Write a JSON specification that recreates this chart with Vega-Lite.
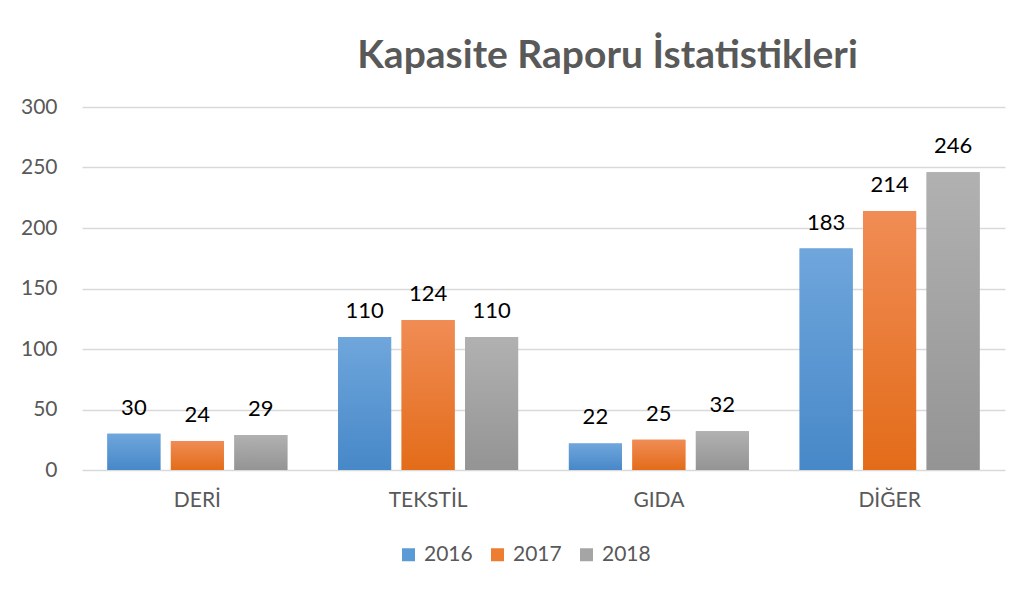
{
  "$schema": "https://vega.github.io/schema/vega-lite/v6.json",
  "width": 923,
  "height": 363,
  "autosize": "none",
  "padding": {"left": 82, "top": 107, "right": 17, "bottom": 122},
  "background": "white",
  "config": {"view": {"stroke": null}, "font": "Lato"},
  "title": {
    "text": "Kapasite Raporu İstatistikleri",
    "font": "Lato",
    "fontSize": 39,
    "fontWeight": "bold",
    "color": "#595959",
    "anchor": "middle",
    "dx": 64,
    "offset": 20
  },
  "data": {
    "values": [
      {"kategori": "DERİ", "yil": "2016", "deger": 30},
      {"kategori": "DERİ", "yil": "2017", "deger": 24},
      {"kategori": "DERİ", "yil": "2018", "deger": 29},
      {"kategori": "TEKSTİL", "yil": "2016", "deger": 110},
      {"kategori": "TEKSTİL", "yil": "2017", "deger": 124},
      {"kategori": "TEKSTİL", "yil": "2018", "deger": 110},
      {"kategori": "GIDA", "yil": "2016", "deger": 22},
      {"kategori": "GIDA", "yil": "2017", "deger": 25},
      {"kategori": "GIDA", "yil": "2018", "deger": 32},
      {"kategori": "DİĞER", "yil": "2016", "deger": 183},
      {"kategori": "DİĞER", "yil": "2017", "deger": 214},
      {"kategori": "DİĞER", "yil": "2018", "deger": 246}
    ]
  },
  "encoding": {
    "x": {
      "field": "kategori",
      "type": "nominal",
      "sort": ["DERİ", "TEKSTİL", "GIDA", "DİĞER"],
      "scale": {"paddingInner": 0.22, "paddingOuter": 0.11},
      "axis": {
        "title": null,
        "labelAngle": 0,
        "domain": false,
        "ticks": false,
        "labelPadding": 19,
        "labelFont": "Lato",
        "labelFontSize": 21,
        "labelColor": "#595959"
      }
    },
    "xOffset": {
      "field": "yil",
      "type": "nominal",
      "scale": {"paddingInner": 0.165, "paddingOuter": 0}
    },
    "y": {
      "field": "deger",
      "type": "quantitative",
      "scale": {"domain": [0, 300]},
      "axis": {
        "title": null,
        "values": [0, 50, 100, 150, 200, 250, 300],
        "domain": false,
        "ticks": false,
        "labelPadding": 25,
        "labelFont": "Lato",
        "labelFontSize": 21,
        "labelColor": "#595959",
        "gridColor": "#d9d9d9",
        "gridWidth": 1.5
      }
    }
  },
  "layer": [
    {
      "mark": {"type": "bar"},
      "encoding": {
        "color": {
          "field": "yil",
          "type": "nominal",
          "scale": {
            "domain": ["2016", "2017", "2018"],
            "range": ["#5b9bd5", "#ed7d31", "#a5a5a5"]
          },
          "legend": {
            "title": null,
            "orient": "none",
            "legendX": 316,
            "legendY": 437,
            "direction": "horizontal",
            "symbolType": "square",
            "symbolSize": 169,
            "symbolStrokeWidth": 0,
            "symbolOpacity": 1,
            "labelFont": "Lato",
            "labelFontSize": 21,
            "labelColor": "#595959",
            "columnPadding": 14,
            "labelOffset": 5
          }
        }
      }
    },
    {
      "mark": {"type": "bar"},
      "encoding": {
        "fill": {
          "condition": [
            {"test": "datum.yil === '2016'", "value": {"gradient": "linear", "x1": 0, "y1": 0, "x2": 0, "y2": 1, "stops": [{"offset": 0, "color": "#6fa6dc"}, {"offset": 1, "color": "#4788c8"}]}},
            {"test": "datum.yil === '2017'", "value": {"gradient": "linear", "x1": 0, "y1": 0, "x2": 0, "y2": 1, "stops": [{"offset": 0, "color": "#f08c55"}, {"offset": 1, "color": "#e36c19"}]}}
          ],
          "value": {"gradient": "linear", "x1": 0, "y1": 0, "x2": 0, "y2": 1, "stops": [{"offset": 0, "color": "#b1b1b1"}, {"offset": 1, "color": "#949494"}]}
        }
      }
    },
    {
      "mark": {"type": "text", "dy": -26, "font": "Lato", "fontSize": 22, "color": "#000000"},
      "encoding": {"text": {"field": "deger", "type": "quantitative"}}
    }
  ]
}
